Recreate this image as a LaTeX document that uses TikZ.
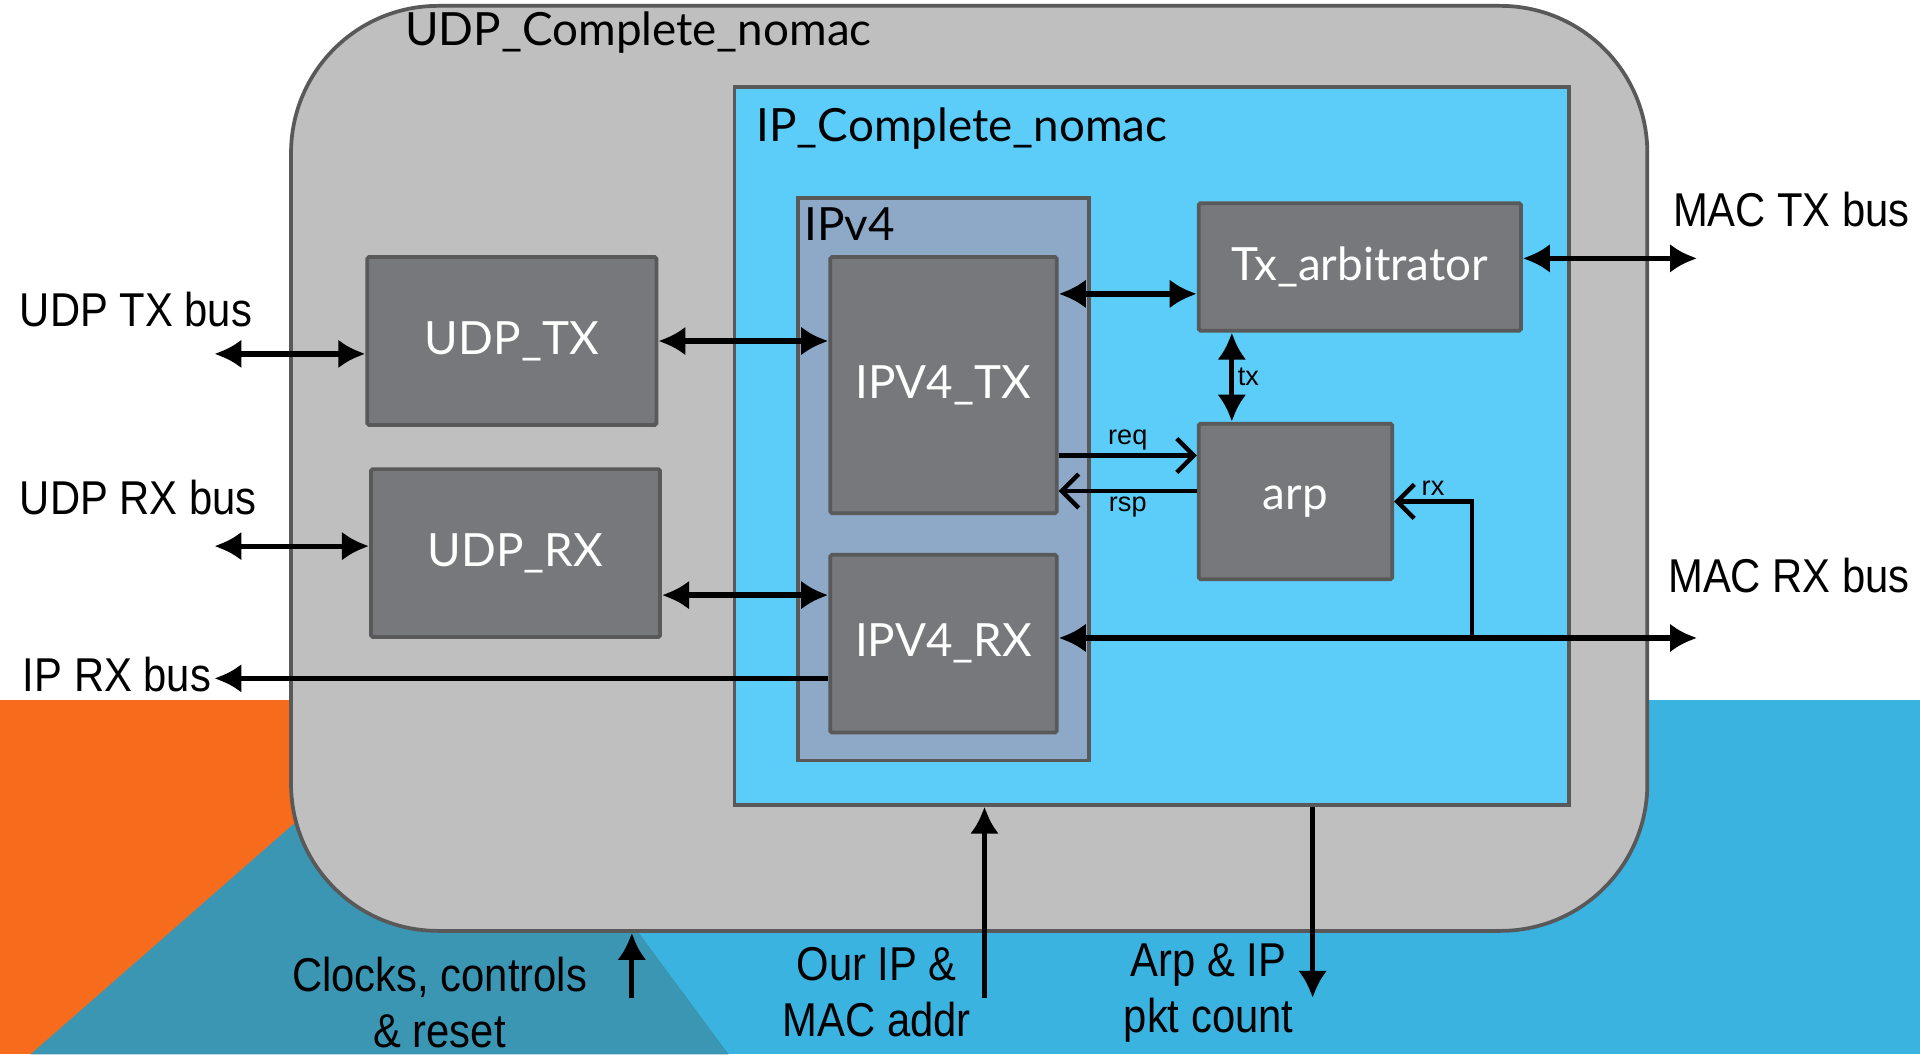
\documentclass[tikz,border=0pt]{standalone}
\usepackage{fontspec}
\setmainfont{Liberation Sans}
\newfontfamily\busfont[FakeStretch=0.88]{Liberation Sans}
\newfontfamily\blockfont{Lato}
\usepackage{tikz}
\usetikzlibrary{arrows.meta,positioning}
\definecolor{udpgray}{HTML}{BFBFBF}
\definecolor{edgegray}{HTML}{595959}
\definecolor{ipblue}{HTML}{5BCDF8}
\definecolor{ipvblue}{HTML}{8EA9C8}
\definecolor{blockgray}{HTML}{77787B}
\definecolor{bgorange}{HTML}{F76B1C}
\definecolor{bgblue}{HTML}{3BB3E0}
\definecolor{bgteal}{HTML}{3A96B3}

\begin{document}
\begin{tikzpicture}[x=0.01in, y=-0.01in,
  frame/.style={draw=edgegray, line width=2.2pt, inner sep=0pt},
  block/.style={frame, fill=blockgray, text=white, rounded corners=1pt, font=\blockfont\fontsize{27}{31}\selectfont},
  title/.style={anchor=west, font=\blockfont\fontsize{27}{31}\selectfont},
  bus/.style={font=\busfont\fontsize{28}{33}\selectfont, align=center},
  sig/.style={font=\fontsize{16}{18}\selectfont, inner sep=2pt},
  biarr/.style={{Latex[length=16pt,width=17pt]}-{Latex[length=16pt,width=17pt]}, line width=3.1pt},
  arr/.style={-{Latex[length=16pt,width=17pt]}, line width=3.1pt},
  openarr/.style={-{Straight Barb[length=10pt,width=20pt]}, line width=2.6pt}
]
\useasboundingbox (0,0) rectangle (1568,861);
\fill[white] (0,0) rectangle (1568,861);
\fill[bgorange] (0,572) rectangle (400,861);
\fill[bgblue] (400,572) rectangle (1568,861);
\fill[bgteal] (25,861) -- (371,558) -- (595,861) -- cycle;

\node[frame, fill=udpgray, rounded corners=1.2in, minimum width=11.07in, minimum height=7.55in] (udpc) at (791.5,382.5) {};
\node[frame, fill=ipblue, minimum width=6.81in, minimum height=5.86in] (ipc) at (940.5,364) {};
\node[frame, fill=ipvblue, minimum width=2.37in, minimum height=4.59in] (ipv4) at (770.5,391.5) {};
\node[title] (udpctitle) at (326,27) {UDP\_Complete\_nomac};
\node[title] (ipctitle) at (613,105) {IP\_Complete\_nomac};
\node[title] (ipv4title) at (652,183) {IPv4};

\node[block, minimum width=2.36in, minimum height=1.37in] (udptx) at (418,278.5) {UDP\_TX};
\node[block, minimum width=2.36in, minimum height=1.37in, below=0.33in of udptx, xshift=0.03in] (udprx) {UDP\_RX};
\node[block, minimum width=1.85in, minimum height=2.09in] (ipv4tx) at (770.5,314.5) {IPV4\_TX};
\node[block, minimum width=1.85in, minimum height=1.45in, below=0.31in of ipv4tx] (ipv4rx) {IPV4\_RX};
\node[block, minimum width=2.63in, minimum height=1.04in] (txarb) at (1110.5,218) {Tx\_arbitrator};
\node[block, minimum width=1.58in, minimum height=1.27in] (arp) at (1058,409.5) {arp};

\coordinate (udptxin) at (175,289);
\coordinate (udprxin) at (175,446);
\coordinate (iprxout) at (175,554);
\coordinate (mactxout) at (1386,211);
\coordinate (macrxout) at (1386,521);
\coordinate (rxtap) at (1202,521);
\coordinate (clkin) at (516,815);
\coordinate (ourin) at (804,815);
\coordinate (cntout) at (1072,815);

\draw[biarr] (udptxin) -- (udptx.west |- udptxin);
\draw[biarr] (udprxin) -- (udprx.west |- udprxin);
\draw[arr] (ipv4rx.west |- iprxout) -- (iprxout);
\draw[biarr] (udptx.east) -- (ipv4tx.west |- udptx.east);
\draw[biarr] (udprx.east |- 0,486) -- (ipv4rx.west |- 0,486);
\draw[biarr] (ipv4tx.east |- 0,240) -- (txarb.west |- 0,240);
\draw[biarr] (txarb.south -| 1006,0) -- node[sig, right] {tx} (arp.north -| 1006,0);
\draw[openarr] (ipv4tx.east |- 0,372) -- node[sig, above] {req} (arp.west |- 0,372);
\draw[openarr] (arp.west |- 0,401) -- node[sig, below] {rsp} (ipv4tx.east |- 0,401);
\draw[biarr] (ipv4rx.east |- macrxout) -- (macrxout);
\draw[openarr] (rxtap) |- node[sig, above, pos=0.75] {rx} (arp.east);
\draw[biarr] (txarb.east |- mactxout) -- (mactxout);
\draw[arr] (clkin) -- (udpc.south -| clkin);
\draw[arr] (ourin) -- (ipc.south -| ourin);
\draw[arr] (ipc.south -| cntout) -- (cntout);

\node[bus] (udptxlbl) at (111,253) {UDP TX bus};
\node[bus] (udprxlbl) at (113,406) {UDP RX bus};
\node[bus, anchor=east, inner sep=1pt] (iprxlbl) at (174,551) {IP RX bus};
\node[bus] (mactxlbl) at (1463,171) {MAC TX bus};
\node[bus] (macrxlbl) at (1461,470) {MAC RX bus};
\node[bus] (clklbl) at (359,819) {Clocks, controls\\\& reset};
\node[bus] (ourlbl) at (716,810) {Our IP \&\\MAC addr};
\node[bus] (cntlbl) at (987,811) {Arp \& IP\\pkt count};
\end{tikzpicture}
\end{document}
